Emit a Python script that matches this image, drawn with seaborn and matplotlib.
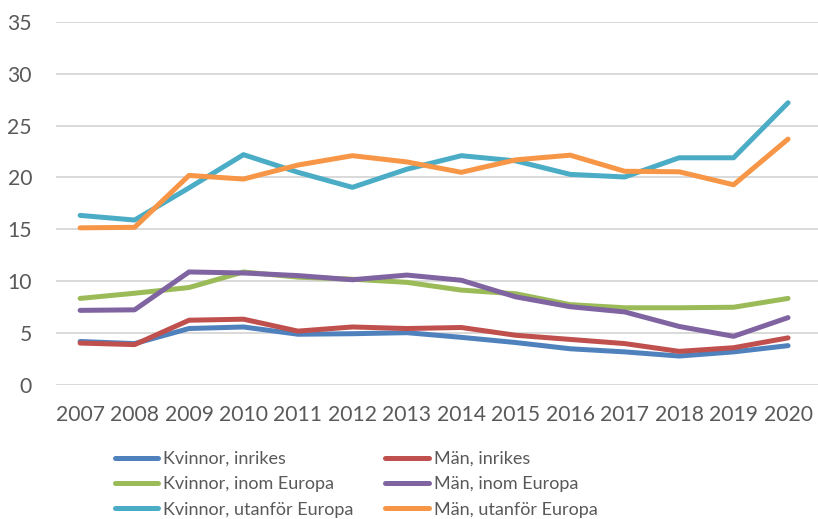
import numpy as np
import pandas as pd
import matplotlib
matplotlib.use("Agg")
import matplotlib.pyplot as plt
import seaborn as sns

years = list(range(2007, 2021))

kvinnor_inrikes = [4.2, 4.0, 5.45, 5.6, 4.9, 4.95, 5.05, 4.6, 4.1, 3.5, 3.2, 2.8, 3.2, 3.8]
man_inrikes = [4.05, 3.9, 6.25, 6.35, 5.2, 5.6, 5.45, 5.55, 4.8, 4.4, 4.0, 3.25, 3.6, 4.55]
kvinnor_europa = [8.35, 8.85, 9.4, 10.9, 10.4, 10.2, 9.9, 9.15, 8.8, 7.75, 7.45, 7.45, 7.5, 8.35]
man_europa = [7.2, 7.25, 10.9, 10.8, 10.55, 10.15, 10.6, 10.1, 8.5, 7.55, 7.05, 5.65, 4.7, 6.5]
kvinnor_utanfor = [16.35, 15.9, 19.0, 22.2, 20.5, 19.05, 20.8, 22.1, 21.6, 20.3, 20.05, 21.9, 21.9, 27.2]
man_utanfor = [15.15, 15.2, 20.2, 19.85, 21.2, 22.1, 21.5, 20.5, 21.7, 22.15, 20.6, 20.55, 19.3, 23.7]

series_names = ["Kvinnor, inrikes", "Män, inrikes",
                "Kvinnor, inom Europa", "Män, inom Europa",
                "Kvinnor, utanför Europa", "Män, utanför Europa"]
series_vals = [kvinnor_inrikes, man_inrikes, kvinnor_europa, man_europa,
               kvinnor_utanfor, man_utanfor]
colors = ["#4F81BD", "#C0504D", "#9BBB59", "#8064A2", "#4BACC6", "#F79646"]

rows = []
for name, vals in zip(series_names, series_vals):
    for y, v in zip(years, vals):
        rows.append({"Year": y, "Value": v, "Serie": name})
df = pd.DataFrame(rows)

sns.set_style("white")
plt.rcParams["font.family"] = ["Lato", "DejaVu Sans"]

fig = plt.figure(figsize=(8.18, 5.19), dpi=100)
ax = fig.add_axes([0.068, 0.258, 0.932, 0.70])

sns.lineplot(data=df, x="Year", y="Value", hue="Serie", hue_order=series_names,
             palette=colors, linewidth=3.6, ax=ax, legend=False,
             solid_capstyle="round", solid_joinstyle="round")

ax.set_ylim(0, 35)
ax.set_xlim(2006.55, 2020.55)
ax.set_yticks(range(0, 36, 5))
ax.set_xticks(years)
ax.set_xticklabels([str(y) for y in years])
ax.yaxis.grid(True, color="#D9D9D9", linewidth=1.4)
ax.set_axisbelow(True)
for s in ax.spines.values():
    s.set_visible(False)
ax.tick_params(axis="both", length=0, labelsize=15.2, labelcolor="#595959")
ax.tick_params(axis="y", pad=17)
ax.tick_params(axis="x", pad=14)
ax.set_xlabel("")
ax.set_ylabel("")

# legend: Kvinnor in left column, Män in right column
order = [0, 2, 4, 1, 3, 5]
handles = [plt.Line2D([], [], color=colors[i], linewidth=3.6, solid_capstyle="round") for i in order]
labels = [series_names[i] for i in order]
fig.legend(handles, labels, ncol=2, loc="lower left",
           bbox_to_anchor=(0.125, -0.022), frameon=False, fontsize=13,
           labelcolor="#595959", handlelength=2.4, handletextpad=0.28,
           columnspacing=1.75, labelspacing=0.52, borderpad=0.2)

fig.savefig("out.png", dpi=100)
